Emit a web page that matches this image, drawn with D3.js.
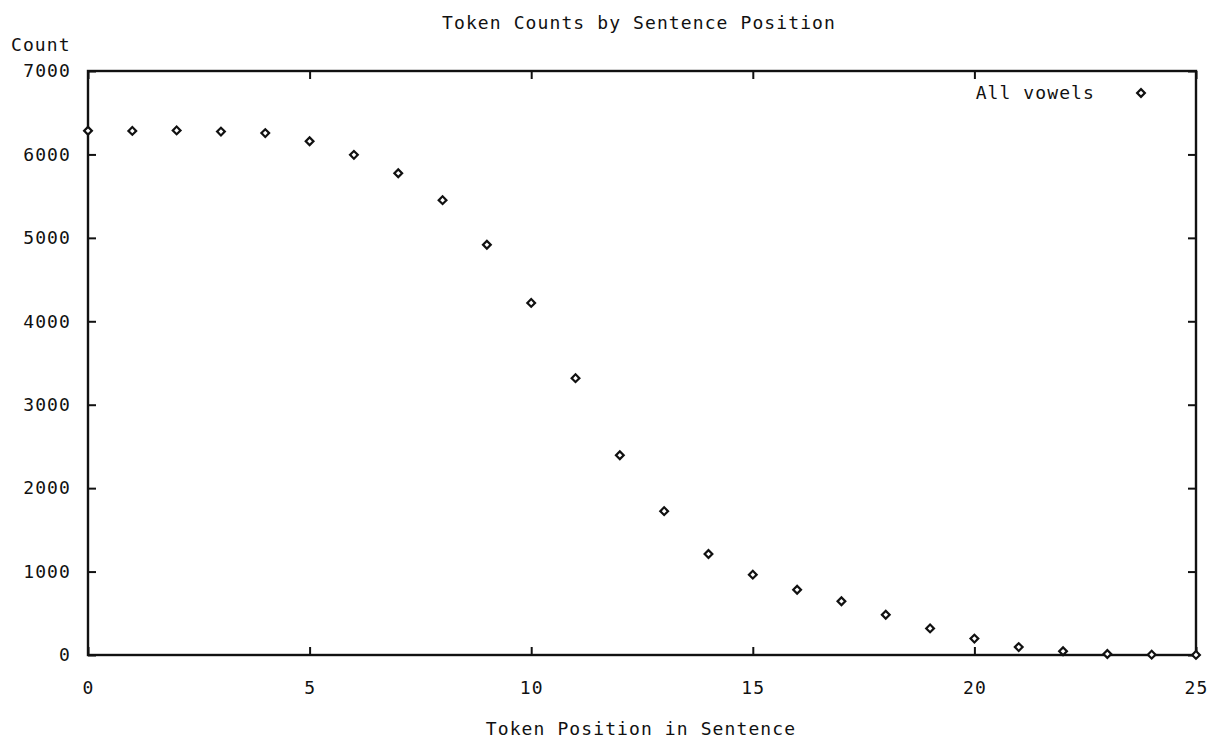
<!DOCTYPE html>
<html>
<head>
<meta charset="utf-8">
<script src="https://cdn.jsdelivr.net/npm/d3@7"></script>
<style>
  body { margin: 0; background: #fff; }
  text { font-family: "DejaVu Sans Mono", monospace; font-size: 18px; letter-spacing: 1.1px; fill: #111; }
</style>
</head>
<body>
<div id="chart"></div>
<script>
// Token position (x) and count (y)
const positions = [0, 1, 2, 3, 4, 5, 6, 7, 8, 9, 10, 11, 12, 13, 14, 15, 16, 17, 18, 19, 20, 21, 22, 23, 24, 25];
const counts = [6284, 6282, 6288, 6274, 6256, 6158, 5995, 5774, 5452, 4918, 4220, 3318, 2394, 1724, 1210, 963, 782, 644, 482, 319, 197, 95, 45, 12, 4, 1];
const xTicks = [0, 5, 10, 15, 20, 25];
const yTicks = [0, 1000, 2000, 3000, 4000, 5000, 6000, 7000];

const margin = { top: 71, right: 15, bottom: 86, left: 88 },
      width = 1211 - margin.left - margin.right,
      height = 741 - margin.top - margin.bottom;

const root = d3.select("#chart")
    .append("svg")
    .attr("width", 1211)
    .attr("height", 741);

const svg = root.append("g")
    .attr("transform", `translate(${margin.left},${margin.top})`);

const x = d3.scaleLinear().domain([0, 25]).range([0, width]);
const y = d3.scaleLinear().domain([0, 7000]).range([height, 0]);

// ticks pointing inward, mirrored on top and right
const tickLen = 8;
svg.append("g")
    .attr("transform", `translate(0,${height})`)
    .call(d3.axisBottom(x).tickValues(xTicks).tickFormat(d3.format("d")).tickSize(-tickLen).tickPadding(tickLen + 18))
    .call(g => g.select(".domain").remove());
svg.append("g")
    .call(d3.axisTop(x).tickValues(xTicks).tickSize(-tickLen).tickFormat(""))
    .call(g => g.select(".domain").remove());
svg.append("g")
    .call(d3.axisLeft(y).tickValues(yTicks).tickFormat(d3.format("d")).tickSize(-tickLen).tickPadding(tickLen + 9))
    .call(g => g.select(".domain").remove());
svg.append("g")
    .attr("transform", `translate(${width},0)`)
    .call(d3.axisRight(y).tickValues(yTicks).tickSize(-tickLen).tickFormat(""))
    .call(g => g.select(".domain").remove());

svg.selectAll(".tick line").attr("stroke", "#111").attr("stroke-width", 2);
svg.selectAll(".tick text")
    .style("font-family", "'DejaVu Sans Mono', monospace")
    .style("font-size", "18px")
    .attr("fill", "#111");

// frame
svg.append("rect")
    .attr("x", 0).attr("y", 0)
    .attr("width", width).attr("height", height)
    .attr("fill", "none")
    .attr("stroke", "#111")
    .attr("stroke-width", 2.4);

// regular diamond: a square turned 45 degrees
const marker = d3.symbol().type(d3.symbolSquare).size(30);

svg.selectAll(".dot")
    .data(positions.map((p, i) => ({ pos: p, count: counts[i] })))
    .enter()
    .append("path")
    .attr("class", "dot")
    .attr("d", marker)
    .attr("transform", d => `translate(${x(d.pos)},${y(d.count)}) rotate(45)`)
    .attr("fill", "#fff")
    .attr("stroke", "#111")
    .attr("stroke-width", 2.2);

// legend
svg.append("text")
    .attr("x", 1095 - margin.left)
    .attr("y", 93 - margin.top)
    .attr("dy", "0.35em")
    .attr("text-anchor", "end")
    .text("All vowels");
svg.append("path")
    .attr("d", marker)
    .attr("transform", `translate(${1141 - margin.left},${93 - margin.top}) rotate(45)`)
    .attr("fill", "#fff")
    .attr("stroke", "#111")
    .attr("stroke-width", 2.2);

// titles
root.append("text")
    .attr("x", 639)
    .attr("y", 29)
    .attr("text-anchor", "middle")
    .text("Token Counts by Sentence Position");

root.append("text")
    .attr("x", 641)
    .attr("y", 735)
    .attr("text-anchor", "middle")
    .text("Token Position in Sentence");

root.append("text")
    .attr("x", 11)
    .attr("y", 51)
    .text("Count");
</script>
</body>
</html>
